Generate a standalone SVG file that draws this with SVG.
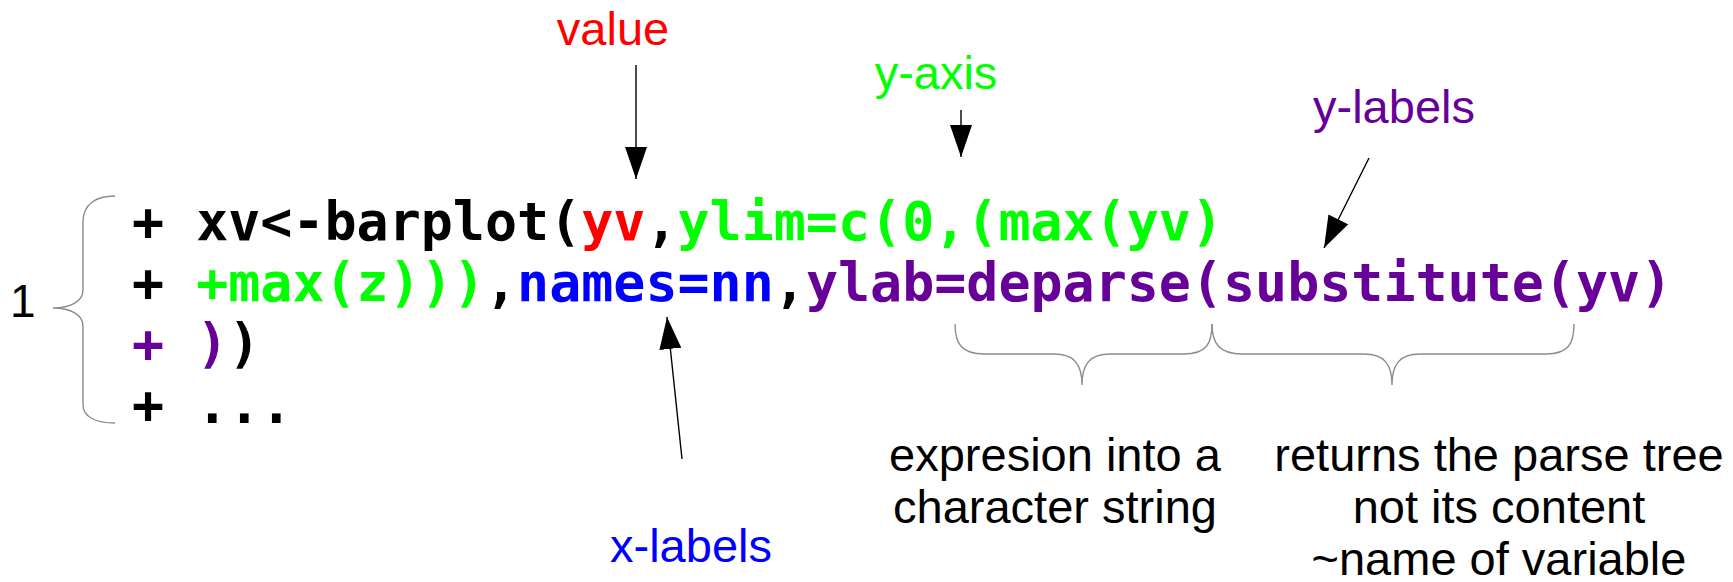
<svg xmlns="http://www.w3.org/2000/svg" width="1733" height="582" viewBox="0 0 1733 582">
<style>
.code{font-family:"DejaVu Sans Mono",monospace;font-weight:bold;font-size:53.3px;white-space:pre}
.lbl{font-family:"Liberation Sans",Arial,sans-serif;font-size:47px}
.k{fill:#000}.r{fill:#ff0000}.g{fill:#00ff00}.b{fill:#0000ff}.p{fill:#660099}
.brace{fill:none;stroke:#8c8c8c;stroke-width:1.4}
.arr{stroke:#000;stroke-width:1.4;fill:none;marker-end:url(#ah)}
</style>
<defs>
<marker id="ah" markerUnits="userSpaceOnUse" markerWidth="33" markerHeight="23" refX="32" refY="11" orient="auto" viewBox="0 0 33 23">
<path d="M0,0 L32,11 L0,22 Z" fill="#000"/>
</marker>
</defs>
<rect width="1733" height="582" fill="#fff"/>
<g id="code">
<text class="code" x="132" y="240" xml:space="preserve"><tspan class="k">+ xv&lt;-barplot(</tspan><tspan class="r">yv</tspan><tspan class="k">,</tspan><tspan class="g">ylim=c(0,(max(yv)</tspan></text>
<text class="code" x="132" y="301" xml:space="preserve"><tspan class="k">+ </tspan><tspan class="g">+max(z)))</tspan><tspan class="k">,</tspan><tspan class="b">names=nn</tspan><tspan class="k">,</tspan><tspan class="p">ylab=deparse(substitute(yv)</tspan></text>
<text class="code" x="132" y="362" xml:space="preserve"><tspan class="p">+ )</tspan><tspan class="k">)</tspan></text>
<text class="code" x="132" y="423" xml:space="preserve"><tspan class="k">+ ...</tspan></text>
</g>
<g id="line-number">
<text class="lbl k" x="10" y="317" style="font-size:46px">1</text>
<path class="brace" d="M115,196 C96,196 83,204 83,222 L83,290 C83,301 71,308 53,308 C71,308 83,315 83,326 L83,405 C83,417 96,423 115,423"/>
</g>
<g id="value"><text class="lbl r" x="613" y="45" text-anchor="middle">value</text></g>
<g id="y-axis"><text class="lbl g" x="936" y="89" text-anchor="middle">y-axis</text></g>
<g id="y-labels"><text class="lbl p" x="1394" y="123" text-anchor="middle">y-labels</text></g>
<g id="x-labels"><text class="lbl b" x="691" y="562" text-anchor="middle">x-labels</text></g>
<g id="deparse-note">
<path class="brace" d="M955,324 C955,344 962,354 984,354 L1054,354 C1074,354 1082,364 1082,385 C1082,364 1090,354 1110,354 L1184,354 C1206,354 1212,344 1212,324"/>
<text class="lbl k" text-anchor="middle"><tspan x="1055" y="471">expresion into a</tspan><tspan x="1055" y="522.5">character string</tspan></text>
</g>
<g id="substitute-note">
<path class="brace" d="M1212,324 C1212,344 1220,354 1242,354 L1364,354 C1384,354 1392,364 1392,385 C1392,364 1400,354 1420,354 L1546,354 C1568,354 1574,344 1574,324"/>
<text class="lbl k" text-anchor="middle"><tspan x="1499" y="471">returns the parse tree</tspan><tspan x="1499" y="522.5">not its content</tspan><tspan x="1499" y="575">~name of variable</tspan></text>
</g>
<g id="connectors">
<line class="arr" x1="636" y1="65" x2="636" y2="179"/>
<line class="arr" x1="961" y1="110" x2="961" y2="157"/>
<line class="arr" x1="1369" y1="158" x2="1324" y2="248"/>
<line class="arr" x1="682" y1="459" x2="667" y2="317"/>
</g>
</svg>
